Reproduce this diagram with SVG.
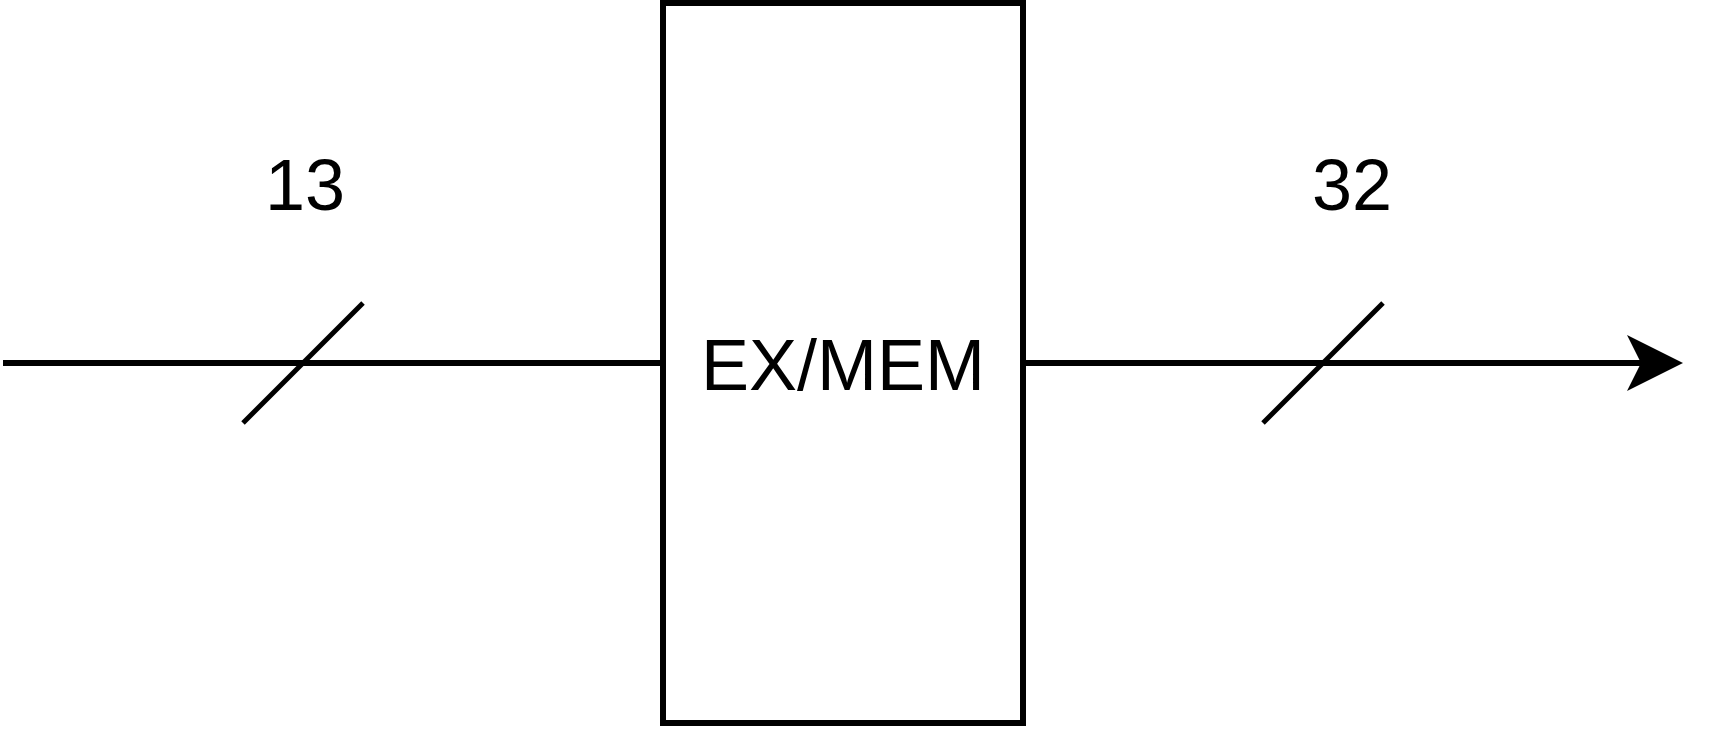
<svg xmlns="http://www.w3.org/2000/svg" width="1734" height="732" viewBox="0 0 1734 732">
<style>
.t{font-family:"Liberation Sans",Arial,sans-serif;font-size:72px;fill:#000;text-anchor:middle}
.w{stroke:#000;stroke-width:6;fill:none}
.s{stroke:#000;stroke-width:5;fill:none}
</style>
<rect width="1734" height="732" fill="#fff"/>
<g id="connectors">
<line class="w" x1="3" y1="363" x2="663" y2="363"/>
<line class="s" x1="243" y1="423" x2="363" y2="303"/>
<text class="t" x="305" y="210">13</text>
<line class="w" x1="1023" y1="363" x2="1642" y2="363"/>
<path d="M1683,363 L1627,335 L1641,363 L1627,391 Z" fill="#000"/>
<line class="s" x1="1263" y1="423" x2="1383" y2="303"/>
<text class="t" x="1352" y="210">32</text>
</g>
<g id="exmem">
<rect class="w" x="663" y="3" width="360" height="720" fill="#fff"/>
<text class="t" x="843" y="390">EX/MEM</text>
</g>
</svg>
